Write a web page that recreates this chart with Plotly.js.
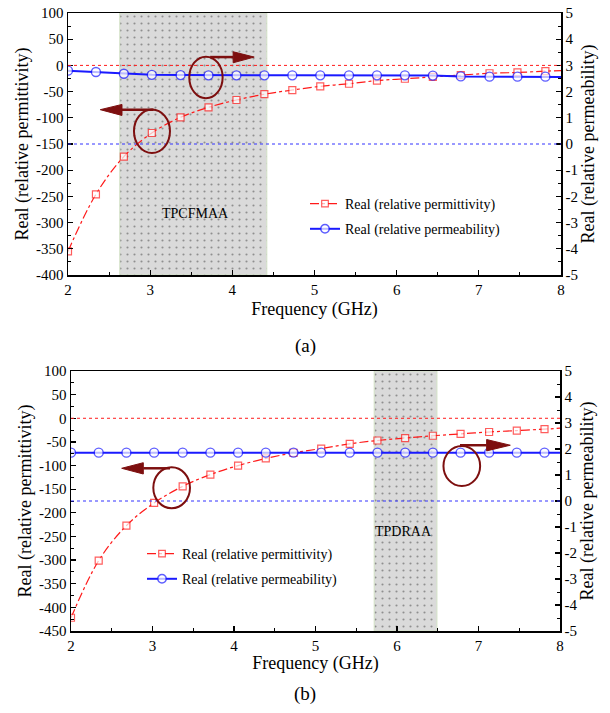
<!DOCTYPE html>
<html><head><meta charset="utf-8">
<script src="https://cdn.plot.ly/plotly-3.0.1.min.js"></script>
<style>html,body{margin:0;padding:0;background:#fff}</style>
</head><body><div id="chart" style="width:610px;height:713px"></div>
<script>
// ---------- data ----------
const freq = [2.00, 2.34, 2.68, 3.02, 3.37, 3.71, 4.05, 4.39, 4.73, 5.07, 5.42, 5.76, 6.10, 6.44, 6.78, 7.13, 7.47, 7.81, 8.00];
// (a) TPCFMAA
const epsA = [-355, -246, -174, -129, -99, -80, -66, -55, -47, -40, -35, -29, -25.5, -22, -18.5, -15, -13.5, -11, -10];
const muA  = [2.80, 2.75, 2.68, 2.64, 2.63, 2.62, 2.62, 2.62, 2.62, 2.62, 2.62, 2.62, 2.62, 2.61, 2.58, 2.57, 2.57, 2.57, 2.56];
// (b) TPDRAA
const epsB = [-422, -301, -227, -179, -144, -119, -100, -85, -73, -64, -54, -47, -42, -37, -33, -29, -26, -23, -21];
const muB  = [1.86, 1.86, 1.86, 1.86, 1.86, 1.86, 1.86, 1.86, 1.86, 1.86, 1.86, 1.86, 1.86, 1.86, 1.86, 1.86, 1.86, 1.86, 1.86];
const bandA = [2.63, 4.42];
const bandB = [5.72, 6.49];
const bandLabels = ['TPCFMAA', 'TPDRAA'];
const seriesNames = ['Real (relative permittivity)', 'Real (relative permeability)'];
const xTicks = [2, 3, 4, 5, 6, 7, 8];
const yTicksA = [100, 50, 0, -50, -100, -150, -200, -250, -300, -350, -400];
const yTicksB = [100, 50, 0, -50, -100, -150, -200, -250, -300, -350, -400, -450];
const y2Ticks = [5, 4, 3, 2, 1, 0, -1, -2, -3, -4, -5];
const panelLabels = ['(a)', '(b)'];

// ---------- styling ----------
const FONT = 'Liberation Serif';
const DARK = '#7d0f0f';
const W = 610, H = 713;
const lbl = v => String(v); // ASCII hyphen minus
const mSize = (n, s) => freq.map((_, i) => i === n - 1 ? 0 : s);

function bandTrace(band, xa, ya, base, top) {
  return {
    type: 'bar', x: [(band[0] + band[1]) / 2], width: [band[1] - band[0]],
    base: [base], y: [top - base], xaxis: xa, yaxis: ya, showlegend: false, hoverinfo: 'skip',
    marker: { color: '#dadada', line: { color: '#d3e2c6', width: 1 },
      pattern: { shape: '.', bgcolor: '#dadada', fgcolor: '#8f8f8f', size: 7, solidity: 0.07, fillmode: 'replace' } }
  };
}
function epsTrace(y, xa, ya, lg, show) {
  return { type: 'scatter', mode: 'lines+markers', x: freq, y: y, xaxis: xa, yaxis: ya,
    name: seriesNames[0], legend: lg, legendgroup: lg + 'e', showlegend: show,
    line: { color: '#ff1a1a', width: 1.2, dash: 'dashdot', shape: 'spline', smoothing: 1 },
    marker: { symbol: 'square', size: mSize(freq.length, 7), color: '#ffffff', line: { color: '#ff1a1a', width: 1.2 } } };
}
function muTrace(y, xa, ya, lg, show) {
  return { type: 'scatter', mode: 'lines+markers', x: freq, y: y, xaxis: xa, yaxis: ya,
    name: seriesNames[1], legend: lg, legendgroup: lg + 'm', showlegend: show,
    line: { color: '#1a1aff', width: 2 },
    marker: { symbol: 'circle', size: mSize(freq.length, 9), color: '#ffffff', line: { color: '#1a1aff', width: 1.4 } } };
}

const data = [
  bandTrace(bandA, 'x', 'y', -400, 100),
  epsTrace(epsA, 'x', 'y', 'legend', true),
  muTrace(muA, 'x', 'y2', 'legend', true),
  bandTrace(bandB, 'x2', 'y3', -450, 100),
  epsTrace(epsB, 'x2', 'y3', 'legend2', true),
  muTrace(muB, 'x2', 'y4', 'legend2', true)
];

const tickFont = { family: FONT, size: 15, color: '#000' };
const titleFont = { family: FONT, size: 18, color: '#000' };
function xAxis(dom, anchor, standoff) {
  return { domain: dom, anchor: anchor, range: [2, 8], tickmode: 'array', tickvals: xTicks, ticktext: xTicks.map(lbl),
    ticks: 'inside', ticklen: 5, tickwidth: 1.2, tickcolor: '#000', showline: true, linewidth: 1.5, linecolor: '#000',
    mirror: true, showgrid: false, zeroline: false, tickfont: tickFont,
    minor: { tickmode: 'linear', tick0: 2, dtick: 0.5, ticks: 'inside', ticklen: 3, tickcolor: '#000', tickwidth: 1 },
    title: { text: 'Frequency (GHz)', font: titleFont, standoff: standoff } };
}
function yLeft(dom, anchor, rng, ticks) {
  return { domain: dom, anchor: anchor, range: rng, tickmode: 'array', tickvals: ticks, ticktext: ticks.map(lbl),
    ticks: 'inside', ticklen: 5, tickwidth: 1.2, tickcolor: '#000', showline: true, linewidth: 1.5, linecolor: '#000',
    showgrid: false, zeroline: false, tickfont: tickFont,
    minor: { tickmode: 'linear', tick0: 0, dtick: 25, ticks: 'inside', ticklen: 3, tickcolor: '#000', tickwidth: 1 },
    title: { text: 'Real (relative permittivity)', font: titleFont, standoff: 2 } };
}
function yRight(over, anchor) {
  return { overlaying: over, anchor: anchor, side: 'right', range: [-5, 5], tickmode: 'array', tickvals: y2Ticks, ticktext: y2Ticks.map(lbl),
    ticks: 'inside', ticklen: 5, tickwidth: 1.2, tickcolor: '#000', showline: true, linewidth: 1.5, linecolor: '#000',
    showgrid: false, zeroline: false, tickfont: tickFont,
    minor: { tickmode: 'linear', tick0: 0, dtick: 0.5, ticks: 'inside', ticklen: 3, tickcolor: '#000', tickwidth: 1 },
    title: { text: 'Real (relative permeability)', font: titleFont, standoff: 3 } };
}

function ellipse(xr, yr, x0, x1, y0, y1) {
  return { type: 'circle', xref: xr, yref: yr, x0: x0, x1: x1, y0: y0, y1: y1, line: { color: DARK, width: 2 }, layer: 'above' };
}
function arrow(xr, yr, xs, xb, xt, y, h1, h2) {
  return [
    { type: 'line', xref: xr, yref: yr, x0: xs, x1: xb, y0: y, y1: y, line: { color: DARK, width: 2.5 } },
    { type: 'path', xref: xr, yref: yr, path: `M${xb},${h1} L${xt},${y} L${xb},${h2} Z`, fillcolor: DARK, line: { color: DARK, width: 1 } }
  ];
}
function refLine2(xr, yr, color) {
  return { type: 'line', xref: xr + ' domain', yref: yr, x0: 0, x1: 1, y0: 0, y1: 0, line: { color: color, width: 1, dash: 'dot' } };
}

const shapes = [
  refLine2('x', 'y', '#ff1a1a'), refLine2('x', 'y2', '#3333ff'),
  refLine2('x2', 'y3', '#ff1a1a'), refLine2('x2', 'y4', '#3333ff'),
  ellipse('x', 'y', 3.476, 3.882, -62.7, 16.7),
  ...arrow('x', 'y', 3.73, 4.01, 4.266, 15.9, 26, 5),
  ellipse('x', 'y', 2.803, 3.241, -167, -84),
  ...arrow('x', 'y', 3.04, 2.657, 2.393, -84.5, -74.5, -95.5),
  ellipse('x2', 'y3', 3.01, 3.46, -190.4, -103.6),
  ...arrow('x2', 'y3', 3.215, 2.887, 2.622, -105.8, -94, -117.9),
  ellipse('x2', 'y3', 6.57, 7.02, -143.3, -58.7),
  ...arrow('x2', 'y3', 6.773, 7.10, 7.39, -57, -45, -69)
];

const annFont = { family: FONT, size: 14, color: '#000' };
const layout = {
  width: W, height: H, margin: { l: 0, r: 0, t: 0, b: 0 }, paper_bgcolor: '#fff', plot_bgcolor: 'rgba(0,0,0,0)',
  font: { family: FONT }, showlegend: true, bargap: 0,
  xaxis: xAxis([68 / W, 561 / W], 'y', 6),
  yaxis: yLeft([1 - 275 / H, 1 - 13 / H], 'x', [-400, 100], yTicksA),
  yaxis2: yRight('y', 'x'),
  xaxis2: xAxis([71 / W, 560 / W], 'x' === 'x' ? 'y3' : 'y3', 1),
  yaxis3: yLeft([1 - 631 / H, 1 - 371 / H], 'x2', [-450, 100], yTicksB),
  yaxis4: yRight('y3', 'x2'),
  legend: { x: 305 / W, y: 1 - 188 / H, xanchor: 'left', yanchor: 'top', bgcolor: 'rgba(0,0,0,0)',
    font: annFont, traceorder: 'grouped', tracegroupgap: 4 },
  legend2: { x: 142 / W, y: 1 - 538 / H, xanchor: 'left', yanchor: 'top', bgcolor: 'rgba(0,0,0,0)',
    font: annFont, traceorder: 'grouped', tracegroupgap: 4 },
  shapes: shapes,
  annotations: [
    { xref: 'x', yref: 'y', x: 3.55, y: -283.5, text: bandLabels[0], showarrow: false, font: annFont },
    { xref: 'x2', yref: 'y3', x: 6.077, y: -240, text: bandLabels[1], showarrow: false, font: annFont },
    { xref: 'paper', yref: 'paper', x: 305 / W, y: 1 - 346 / H, yanchor: 'middle', text: panelLabels[0], showarrow: false, font: { family: FONT, size: 19, color: '#000' } },
    { xref: 'paper', yref: 'paper', x: 305 / W, y: 1 - 694 / H, yanchor: 'middle', text: panelLabels[1], showarrow: false, font: { family: FONT, size: 19, color: '#000' } }
  ]
};

Plotly.newPlot('chart', data, layout, { displayModeBar: false, staticPlot: true });
</script>
</body></html>
